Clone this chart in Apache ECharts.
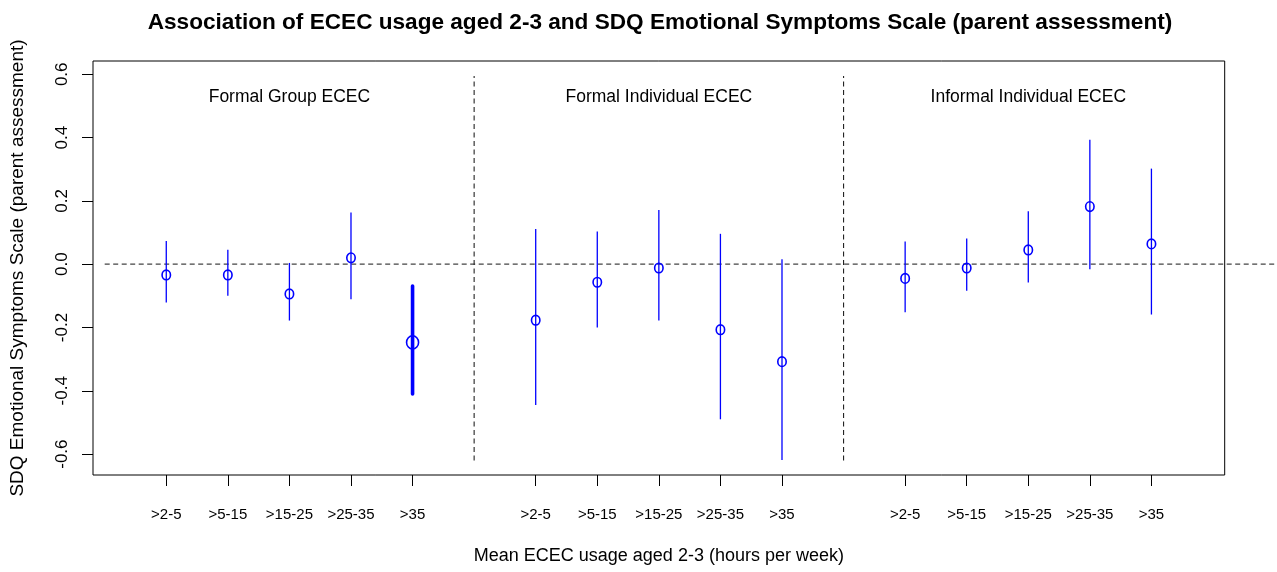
<!DOCTYPE html>
<html>
<head>
<meta charset="utf-8">
<script src="https://cdn.jsdelivr.net/npm/echarts@6/dist/echarts.min.js"></script>
<style>
  html, body { margin: 0; padding: 0; background: #fff; }
  #chart { width: 1277px; height: 572px; }
</style>
</head>
<body>
<div id="chart"></div>
<script>
// Hours-per-week bands shown under each ECEC type
const categories = ['>2-5', '>5-15', '>15-25', '>25-35', '>35'];
const groups = ['Formal Group ECEC', 'Formal Individual ECEC', 'Informal Individual ECEC'];

// Point estimates and 95% confidence limits per ECEC type
const estFormalGroup = [-0.034, -0.034, -0.094, 0.020, -0.247];
const lowFormalGroup = [-0.121, -0.100, -0.178, -0.111, -0.410];
const highFormalGroup = [0.073, 0.046, 0.004, 0.163, -0.069];

const estFormalIndividual = [-0.177, -0.057, -0.012, -0.207, -0.308];
const lowFormalIndividual = [-0.445, -0.200, -0.178, -0.490, -0.619];
const highFormalIndividual = [0.111, 0.103, 0.171, 0.096, 0.016];

const estInformalIndividual = [-0.045, -0.012, 0.045, 0.182, 0.064];
const lowInformalIndividual = [-0.152, -0.084, -0.058, -0.016, -0.159];
const highInformalIndividual = [0.072, 0.081, 0.167, 0.393, 0.302];

// Estimates whose interval excludes zero are drawn heavier
const significant = [
  [false, false, false, false, true],
  [false, false, false, false, false],
  [false, false, false, false, false]
];

const yTicks = [-0.6, -0.4, -0.2, 0.0, 0.2, 0.4, 0.6];

const estimates = [estFormalGroup, estFormalIndividual, estInformalIndividual];
const lows = [lowFormalGroup, lowFormalIndividual, lowInformalIndividual];
const highs = [highFormalGroup, highFormalIndividual, highInformalIndividual];

// Position along x: each block of five bands is followed by one empty slot
const xPos = (g, i) => g * 6 + i + 1;

const pointData = [];
const xTickValues = [];
const xTickText = {};
groups.forEach((name, g) => {
  categories.forEach((cat, i) => {
    const x = xPos(g, i);
    xTickValues.push(x);
    xTickText[x] = cat;
    pointData.push([x, estimates[g][i], lows[g][i], highs[g][i], significant[g][i] ? 1 : 0]);
  });
});

const labelData = groups.map((name, g) => [xPos(g, 2), 0.528, name]);
const dividerData = [[6, -0.62, 0.595], [12, -0.62, 0.595]];
const zeroLineData = [[0, 22, 0]];

const FONT = 'Liberation Sans, Arial, sans-serif';
const BLUE = '#0000ff';

const chart = echarts.init(document.getElementById('chart'), null, { renderer: 'canvas' });

chart.setOption({
  animation: false,
  backgroundColor: '#ffffff',
  title: {
    text: 'Association of ECEC usage aged 2-3 and SDQ Emotional Symptoms Scale (parent assessment)',
    left: 655,
    textAlign: 'center',
    top: 6,
    textStyle: { fontFamily: FONT, fontWeight: 'bold', fontSize: 22.6, color: '#000' }
  },
  grid: {
    left: 92.5,
    right: 52.3,
    top: 61,
    bottom: 97,
    show: true,
    borderColor: '#000',
    borderWidth: 1,
    backgroundColor: 'transparent'
  },
  xAxis: {
    type: 'value',
    min: -0.19,
    max: 18.19,
    name: 'Mean ECEC usage aged 2-3 (hours per week)',
    nameLocation: 'middle',
    nameGap: 72,
    nameTextStyle: { fontFamily: FONT, fontSize: 18, color: '#000' },
    axisLine: { show: false, onZero: false },
    splitLine: { show: false },
    axisTick: {
      show: true,
      length: 11,
      customValues: xTickValues,
      lineStyle: { color: '#000', width: 1 }
    },
    axisLabel: {
      customValues: xTickValues,
      margin: 32,
      fontFamily: FONT,
      fontSize: 15,
      color: '#000',
      formatter: v => xTickText[Math.round(v)] || ''
    }
  },
  yAxis: {
    type: 'value',
    min: -0.666,
    max: 0.642,
    name: 'SDQ Emotional Symptoms Scale (parent assessment)',
    nameLocation: 'middle',
    nameGap: 66,
    nameTextStyle: { fontFamily: FONT, fontSize: 19, color: '#000' },
    axisLine: { show: false, onZero: false },
    splitLine: { show: false },
    axisTick: {
      show: true,
      length: 11,
      customValues: yTicks,
      lineStyle: { color: '#000', width: 1 }
    },
    axisLabel: {
      customValues: yTicks,
      rotate: 90,
      margin: 22,
      fontFamily: FONT,
      fontSize: 17,
      color: '#000',
      formatter: v => v.toFixed(1)
    }
  },
  series: [
    {
      // horizontal reference at zero, running past the right edge of the box
      type: 'custom',
      clip: false,
      silent: true,
      data: zeroLineData,
      renderItem: (params, api) => {
        const a = api.coord([api.value(0), api.value(2)]);
        const b = api.coord([api.value(1), api.value(2)]);
        return {
          type: 'line',
          shape: { x1: a[0], y1: a[1], x2: b[0], y2: b[1] },
          style: { stroke: '#444', lineWidth: 1.2, lineDash: [5, 3.5] }
        };
      }
    },
    {
      // separators between ECEC types
      type: 'custom',
      clip: false,
      silent: true,
      data: dividerData,
      renderItem: (params, api) => {
        const a = api.coord([api.value(0), api.value(1)]);
        const b = api.coord([api.value(0), api.value(2)]);
        return {
          type: 'line',
          shape: { x1: a[0], y1: a[1], x2: b[0], y2: b[1] },
          style: { stroke: '#222', lineWidth: 1.1, lineDash: [5, 3.5] }
        };
      }
    },
    {
      // ECEC type headings inside the plot
      type: 'custom',
      clip: false,
      silent: true,
      data: labelData,
      renderItem: (params, api) => {
        const p = api.coord([api.value(0), api.value(1)]);
        return {
          type: 'text',
          x: p[0],
          y: p[1],
          style: {
            text: labelData[params.dataIndex][2],
            fill: '#000',
            font: '17.5px ' + FONT,
            align: 'center',
            verticalAlign: 'middle'
          }
        };
      }
    },
    {
      // estimates with confidence intervals
      type: 'custom',
      clip: false,
      data: pointData,
      renderItem: (params, api) => {
        const x = api.value(0);
        const c = api.coord([x, api.value(1)]);
        const lo = api.coord([x, api.value(2)]);
        const hi = api.coord([x, api.value(3)]);
        const sig = api.value(4) === 1;
        return {
          type: 'group',
          children: [
            {
              type: 'line',
              shape: { x1: lo[0], y1: lo[1], x2: hi[0], y2: hi[1] },
              style: { stroke: BLUE, lineWidth: sig ? 3.6 : 1.3, lineCap: sig ? 'round' : 'butt' }
            },
            {
              type: 'ellipse',
              shape: { cx: c[0], cy: c[1], rx: sig ? 6 : 4.2, ry: sig ? 6.6 : 4.8 },
              style: { fill: 'none', stroke: BLUE, lineWidth: 1.6 }
            }
          ]
        };
      }
    }
  ]
});
</script>
</body>
</html>
